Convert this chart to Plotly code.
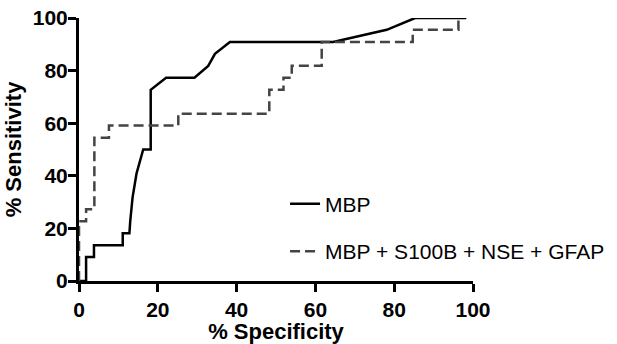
import plotly.graph_objects as go

# ROC curve data
mbp_spec = [0, 1.8, 1.8, 3.8, 3.8, 11.1, 11.1, 12.8, 13.0, 13.6, 14.6, 16.3, 18.2, 18.2,
            22.1, 29.3, 32.8, 34.5, 38.3, 64.5, 78.1, 85.3, 98.3]
mbp_sens = [0, 0, 9.1, 9.1, 13.6, 13.6, 18.2, 18.2, 22.7, 31.8, 40.9, 50.0, 50.0, 72.7,
            77.3, 77.3, 81.8, 86.4, 90.9, 90.9, 95.5, 100, 100]

combo_spec = [0, 0, 1.8, 1.8, 3.9, 3.9, 7.6, 7.6, 25.2, 25.2, 48.3, 48.3, 51.9, 51.9,
              54.0, 54.0, 61.6, 61.6, 84.7, 84.7, 96.3, 96.3]
combo_sens = [0, 22.7, 22.7, 27.3, 27.3, 54.5, 54.5, 59.1, 59.1, 63.6, 63.6, 72.7, 72.7,
              77.3, 77.3, 81.8, 81.8, 90.9, 90.9, 95.5, 95.5, 100]

tick_vals = [0, 20, 40, 60, 80, 100]
tick_text = ["0", "20", "40", "60", "80", "100"]

series_names = ["MBP", "MBP + S100B + NSE + GFAP"]

FONT = "Liberation Sans, Arial, sans-serif"

fig = go.Figure()
fig.add_trace(go.Scatter(x=mbp_spec, y=mbp_sens, mode="lines", name=series_names[0],
                         line=dict(color="#000000", width=2.5), legend="legend",
                         showlegend=True))
fig.add_trace(go.Scatter(x=combo_spec, y=combo_sens, mode="lines", name=series_names[1],
                         line=dict(color="#444444", width=2.5, dash="10px,5px"),
                         legend="legend2", showlegend=True))

axis_common = dict(
    range=[0, 100], tickvals=tick_vals, ticktext=tick_text, automargin=False,
    showgrid=False, zeroline=False, showline=True, linecolor="black", linewidth=3,
    ticks="outside", ticklen=8, tickwidth=3, tickcolor="black",
    ticklabeloverflow="allow",
    tickfont=dict(family=FONT, size=21, color="black", weight="bold"),
)

fig.update_layout(
    width=617, height=344, showlegend=True,
    margin=dict(l=79, r=144, t=18, b=63, autoexpand=False),
    paper_bgcolor="white", plot_bgcolor="white",
    xaxis=dict(**axis_common,
               title=dict(text="% Specificity", standoff=4,
                          font=dict(family=FONT, size=22, color="black", weight="bold"))),
    yaxis=dict(**axis_common,
               title=dict(text="% Sensitivity", standoff=6,
                          font=dict(family=FONT, size=22, color="black", weight="bold"))),
    legend=dict(x=0.523, y=0.292, xanchor="left", yanchor="middle",
                bgcolor="rgba(0,0,0,0)",
                font=dict(family=FONT, size=21, color="black")),
    legend2=dict(x=0.523, y=0.112, xanchor="left", yanchor="middle",
                 bgcolor="rgba(0,0,0,0)",
                 font=dict(family=FONT, size=21, color="black")),
)

# pull the y tick labels right up against the tick marks, as in the reference
try:
    fig.update_yaxes(ticklabelstandoff=-4)
except ValueError:
    pass

# remove the default 8px page margin so the figure fills the window exactly
fig.write_html("out.html", config={"displayModeBar": False},
               post_script="document.body.style.margin='0px';")
